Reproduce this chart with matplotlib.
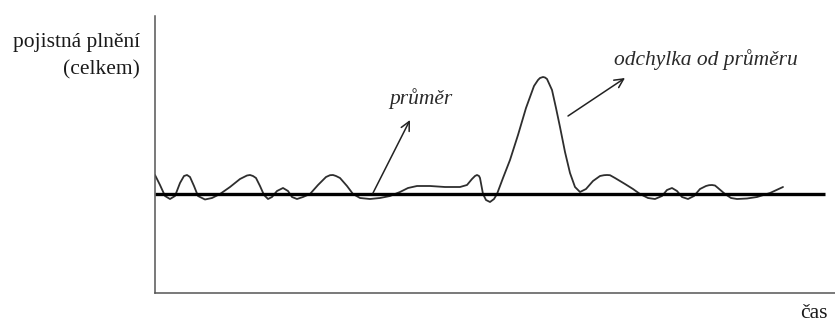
import matplotlib
matplotlib.use("Agg")
import matplotlib.pyplot as plt

# time (arbitrary units) and total claims (arbitrary units)
t = [0, 5, 10, 15, 20, 25, 29, 32, 35, 39, 43, 50, 57, 65, 75, 85, 92, 95, 98, 101, 105, 109,
     113, 117, 122, 128, 133, 137, 142, 148, 155, 163, 171, 175, 178, 181, 185, 192, 198, 205, 215,
     225, 235, 245, 253, 262, 275, 290, 305, 312, 317, 320, 322, 324, 325, 328, 331, 335, 339, 342,
     348, 355, 363, 371, 379, 383, 385, 388, 390, 392, 397, 401, 405, 410, 415, 420, 425, 431, 438,
     445, 449, 452, 455, 460, 470, 478, 485, 493, 500, 507, 512, 517, 522, 527, 533, 539, 545, 551,
     554, 557, 560, 563, 570, 576, 582, 592, 602, 615, 628]
claims = [118, 108, 97, 94, 97, 110, 117, 118, 116, 107, 97, 93.5, 95, 99, 106, 114, 117.5, 118,
          117, 115, 107, 98, 94, 96, 102, 105, 102, 96, 94, 96, 99, 108, 116, 117.8, 118, 117, 115,
          107, 99, 95, 94, 95, 97, 101, 105, 107, 107, 106, 106, 108, 114, 117, 118, 117, 115, 99,
          93, 91, 94, 99, 115, 133, 158, 185, 207, 213, 215, 216, 215.5, 214, 203, 185, 166, 141,
          120, 106, 101, 104, 112, 117, 117.8, 118, 117.8, 115, 109, 104, 99, 95, 94, 97, 103, 105,
          102, 96, 94, 97, 104, 107, 107.8, 108, 107.5, 105, 99, 95, 94, 94.5, 96, 100, 106]
mean_value = 99
mean_span = [0, 670]

y_label = ["pojistná plnění", "(celkem)"]
x_label = "čas"
mean_label = "průměr"
dev_label = "odchylka od průměru"

W, H = 835, 322
fig = plt.figure(figsize=(W / 100, H / 100), dpi=100)
ax = fig.add_axes([155 / W, (H - 293) / H, (W - 155) / W, (293 - 16) / H])
ax.set_xlim(0, 680)
ax.set_ylim(0, 277)

ax.plot(t, claims, color="#2e2e2e", lw=1.3, solid_capstyle="round", solid_joinstyle="round")
ax.plot(mean_span, [mean_value, mean_value], color="black", lw=2.4, solid_capstyle="butt")

for s in ["top", "right"]:
    ax.spines[s].set_visible(False)
for s in ["left", "bottom"]:
    ax.spines[s].set_color("#555555")
    ax.spines[s].set_linewidth(1.1)
ax.set_xticks([])
ax.set_yticks([])

arrow = dict(arrowstyle="->", color="#222222", lw=1.1, mutation_scale=16, shrinkA=0, shrinkB=0)
ax.annotate("", xy=(255, 173), xytext=(218, 100), arrowprops=arrow)
ax.annotate("", xy=(470, 215), xytext=(413, 177), arrowprops=arrow)

serif = "Liberation Serif"
ax.text(266, 194, mean_label, family=serif, style="italic", fontsize=15.5,
        ha="center", va="center", color="#2a2a2a")
ax.text(551, 233, dev_label, family=serif, style="italic", fontsize=15.5,
        ha="center", va="center", color="#2a2a2a")

fig.text(140 / W, 1 - 42 / H, y_label[0], family=serif, fontsize=15.5, ha="right",
         va="center", color="#1a1a1a")
fig.text(140 / W, 1 - 70 / H, y_label[1], family=serif, fontsize=15.5, ha="right",
         va="center", color="#1a1a1a")
fig.text(814 / W, 1 - 314 / H, x_label, family=serif, fontsize=15.5, ha="center",
         va="center", color="#1a1a1a")

fig.savefig("out.png", dpi=100, facecolor="white")
